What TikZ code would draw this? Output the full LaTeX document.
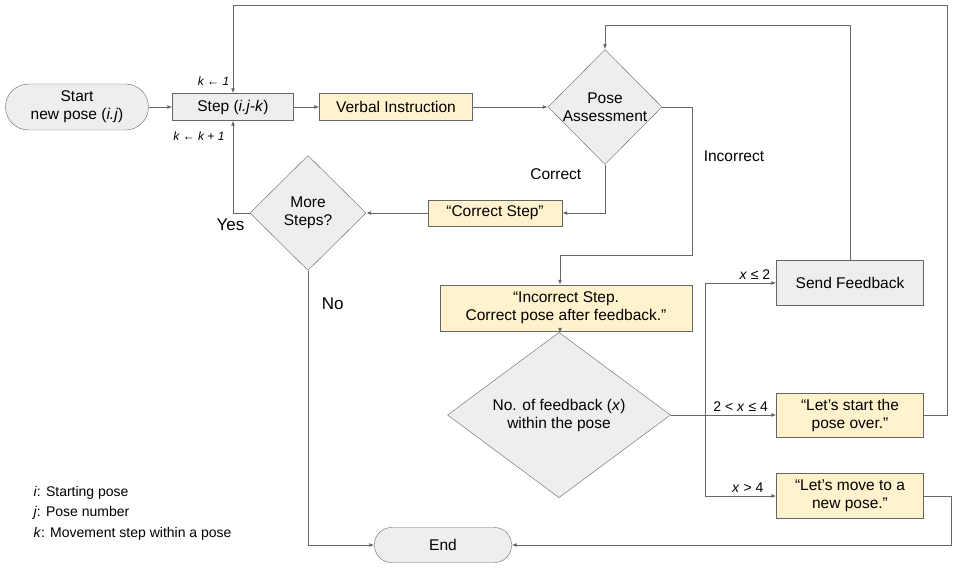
\documentclass[tikz,border=0pt]{standalone}
\usepackage{fontspec}
\setmainfont{Liberation Sans}
\usepackage{xcolor}
\usetikzlibrary{positioning, arrows.meta, shapes.geometric}
\definecolor{boxgray}{HTML}{EEEEEE}
\definecolor{boxyellow}{HTML}{FFF2CC}
\definecolor{edgegray}{HTML}{666666}

\begin{document}
\begin{tikzpicture}[
    x=1pt, y=-1pt,
    every node/.style={font=\fontsize{15.5}{18}\selectfont},
    action/.style={rectangle, draw=edgegray, fill=boxgray, align=center, inner sep=0pt},
    speech/.style={rectangle, draw=edgegray, fill=boxyellow, align=center, inner sep=0pt},
    decision/.style={diamond, draw=edgegray, fill=boxgray, align=center, inner sep=0pt},
    flow/.style={draw=edgegray, line width=0.9pt, -{Latex[length=5pt, width=4pt]}},
    cond/.style={font=\fontsize{14}{16}\selectfont},
    kvar/.style={font=\itshape\fontsize{12}{14}\selectfont}
]
\useasboundingbox (0,0) rectangle (957,569);

\node[action, rounded corners=23pt, minimum width=143pt, minimum height=46pt] (start) at (77,107) {Start\\new pose (\textit{i.j})};
\node[action, minimum width=121pt, minimum height=27pt] (stepijk) at (233,107) {Step (\textit{i.j-k})};
\node[speech, minimum width=153pt, minimum height=27pt] (verbal) at (396,107) {Verbal Instruction};
\node[decision, minimum width=114pt, minimum height=115pt] (assess) at (605,107) {Pose\\Assessment};
\node[speech, minimum width=134pt, minimum height=26pt] (correct) at (495,213) {“Correct Step”};
\node[decision, minimum width=116pt, minimum height=115pt] (more) at (308,213) {More\\Steps?};
\node[speech, minimum width=252pt, minimum height=46pt] (incorrect) at (566,308) {“Incorrect Step.\\Correct pose after feedback.”};
\node[decision, minimum width=223pt, minimum height=114pt] (count) at (559,415) {No. of feedback (\textit{x})\\within the pose};
\node[action, minimum width=147pt, minimum height=45pt] (feedback) at (850,283) {Send Feedback};
\node[speech, minimum width=147pt, minimum height=44pt] (restart) at (850,415) {“Let’s start the\\pose over.”};
\node[speech, minimum width=147pt, minimum height=45pt] (newpose) at (850,496) {“Let’s move to a\\new pose.”};
\node[action, rounded corners=17pt, minimum width=137pt, minimum height=35pt] (finish) at (443,545) {End};

% branch points
\coordinate (split) at (705,415);
\coordinate (drop) at (560,255);

\draw[flow] (start) -- (stepijk);
\draw[flow] (stepijk) -- (verbal);
\draw[flow] (verbal) -- (assess);
\draw[flow] (assess.east) -- (692,107) -- node[pos=0.33, right=8pt] {Incorrect} (692,255) -- (drop) -- (drop |- incorrect.north);
\draw[flow] (assess.south) |- node[pos=0.1, left=20pt] {Correct} (correct.east);
\draw[flow] (correct) -- (more);
\draw[flow] (more.west) -| node[pos=0.05, below left=2pt and 0pt, font=\fontsize{17}{19}\selectfont] {Yes} (stepijk.south);
\draw[flow] (more.south) |- node[pos=0.06, right=10pt, font=\fontsize{17}{19}\selectfont] {No} (finish.west);
\draw[flow] (incorrect.south -| drop) -- (count);
\draw[draw=edgegray, line width=0.9pt] (count.east) -- (split);
\draw[flow] (split) |- node[pos=0.85, above, cond] {\textit{x} ≤ 2} (feedback.west);
\draw[flow] (split) -- node[pos=0.5, above, cond] {2 < \textit{x} ≤ 4} (restart.west);
\draw[flow] (split) |- node[pos=0.8, above, cond] {\textit{x} > 4} (newpose.west);
\draw[flow] (feedback.north) |- (605,25) -- (assess.north);
\draw[flow] (restart.east) -| (947,5) -| node[pos=0.93, left, kvar] {k ← 1} (stepijk.north);
\draw[flow] (newpose.east) -| (951,545) -- (finish.east);

\node[kvar, anchor=east] (kinc) at (228,136) {k ← k + 1};

% legend
\node[anchor=west, cond] (leg1) at (30,493) {\textit{i}: Starting pose};
\node[anchor=west, cond] (leg2) at (30,513) {\textit{j}: Pose number};
\node[anchor=west, cond] (leg3) at (30,534) {\textit{k}: Movement step within a pose};
\end{tikzpicture}
\end{document}
